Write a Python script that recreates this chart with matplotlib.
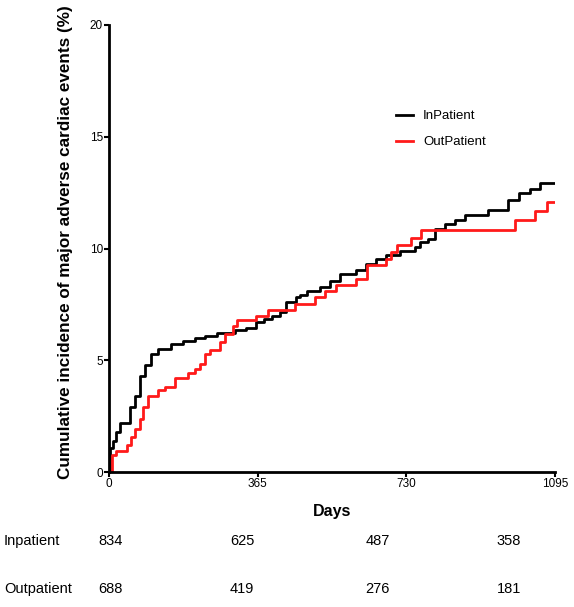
import matplotlib.pyplot as plt

plt.rcParams['font.family'] = ['Liberation Sans', 'DejaVu Sans']

# step curves: (day, cumulative %)
in_days = [0, 2, 10, 18, 28, 51, 63, 77, 88, 104, 120, 153, 182, 211, 235, 264, 308, 337, 361,
           380, 400, 419, 435, 460, 468, 485, 517, 542, 566, 607, 632, 656, 681, 714, 750, 763,
           783, 800, 824, 849, 873, 930, 980, 1007, 1033, 1057, 1095]
in_vals = [0, 1.1, 1.4, 1.8, 2.2, 2.9, 3.4, 4.3, 4.8, 5.3, 5.5, 5.75, 5.86, 6.0, 6.1, 6.24, 6.35,
           6.46, 6.7, 6.85, 7.0, 7.16, 7.6, 7.83, 7.94, 8.1, 8.28, 8.55, 8.88, 9.06, 9.32, 9.55,
           9.7, 9.89, 10.07, 10.29, 10.44, 10.89, 11.08, 11.29, 11.49, 11.71, 12.16, 12.48, 12.68,
           12.93, 12.93]

out_days = [0, 6, 18, 43, 55, 63, 75, 83, 96, 120, 137, 161, 194, 210, 223, 235, 247, 272, 284,
            304, 313, 361, 390, 419, 456, 505, 530, 558, 607, 634, 681, 693, 706, 742, 767, 996,
            1045, 1074, 1095]
out_vals = [0, 0.75, 0.97, 1.2, 1.57, 1.94, 2.39, 2.9, 3.43, 3.66, 3.83, 4.22, 4.43, 4.62, 4.85,
            5.3, 5.45, 5.82, 6.19, 6.56, 6.79, 7.0, 7.27, 7.27, 7.53, 7.83, 8.1, 8.35, 8.65, 9.25,
            9.55, 9.84, 10.14, 10.49, 10.81, 11.26, 11.66, 12.1, 12.1]

x_ticks = [0, 365, 730, 1095]
y_ticks = [0, 5, 10, 15, 20]

risk_rows = ['Inpatient', 'Outpatient']
risk_in = [834, 625, 487, 358]
risk_out = [688, 419, 276, 181]

fig = plt.figure(figsize=(5.74, 6.07), dpi=100)
ax = fig.add_axes([0.19, 0.222, 0.777, 0.737])

ax.step(in_days, in_vals, where='post', color='black', lw=2, label='InPatient')
ax.step(out_days, out_vals, where='post', color='#ff1a1a', lw=2, label='OutPatient')

ax.set_xlim(0, 1095)
ax.set_ylim(0, 20)
ax.set_xticks(x_ticks)
ax.set_yticks(y_ticks)
ax.tick_params(axis='both', labelsize=8.5, length=3.5, width=1.5, pad=1)
for s in ['top', 'right']:
    ax.spines[s].set_visible(False)
for s in ['left', 'bottom']:
    ax.spines[s].set_linewidth(2)

ax.set_xlabel('Days', fontsize=11.5, fontweight='bold', labelpad=10)
ax.set_ylabel('Cumulative incidence of major adverse cardiac events (%)', fontsize=12.3,
              fontweight='bold')
ax.yaxis.set_label_coords(-0.08, 0.515)

ax.legend(loc='center left', bbox_to_anchor=(0.643, 0.767), frameon=False, fontsize=9.5,
          handlelength=1.3, handletextpad=0.75, labelspacing=1.05, borderaxespad=0,
          borderpad=0)

# numbers at risk
col_x = [0.193, 0.422, 0.658, 0.886]
row_y = [0.109, 0.030]
for row, vals, y in zip(risk_rows, [risk_in, risk_out], row_y):
    fig.text(0.007, y, row, fontsize=10.5, va='center', ha='left')
    for v, x in zip(vals, col_x):
        fig.text(x, y, str(v), fontsize=10.5, va='center', ha='center')

fig.savefig('out.png', dpi=100)
